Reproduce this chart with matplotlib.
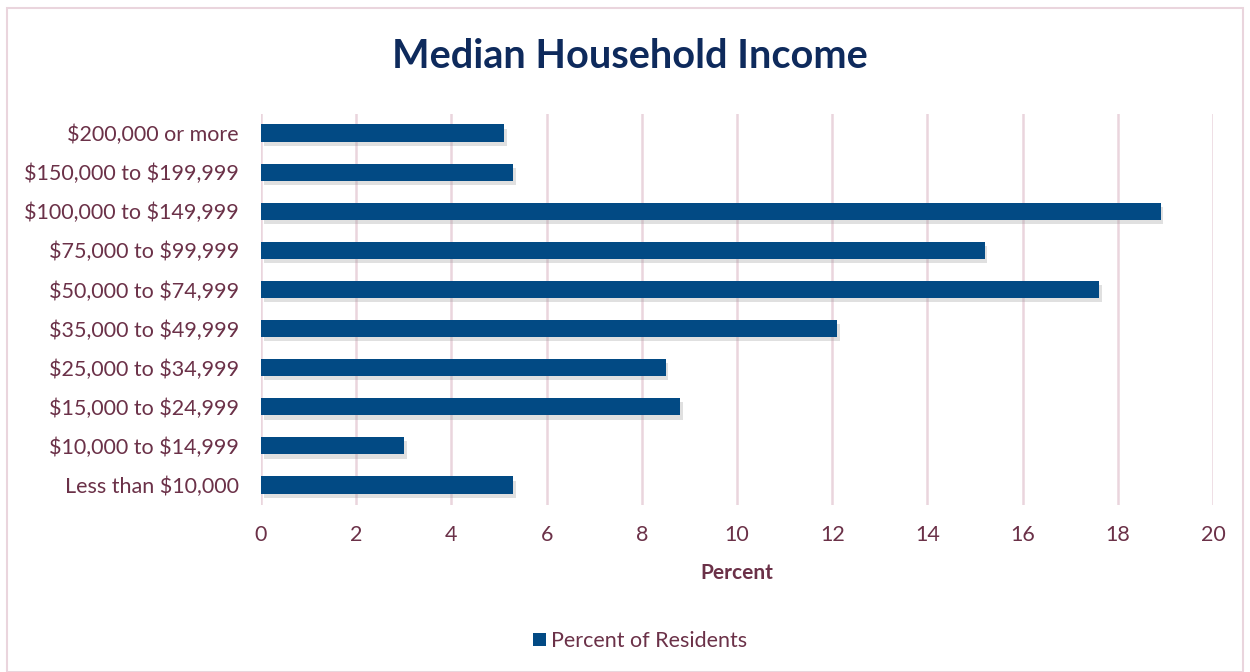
import matplotlib.pyplot as plt
import matplotlib.patheffects as pe
from matplotlib.patches import Rectangle

# data
categories = ['Less than $10,000', '$10,000 to $14,999', '$15,000 to $24,999',
              '$25,000 to $34,999', '$35,000 to $49,999', '$50,000 to $74,999',
              '$75,000 to $99,999', '$100,000 to $149,999', '$150,000 to $199,999',
              '$200,000 or more']
percent = [5.3, 3.0, 8.8, 8.5, 12.1, 17.6, 15.2, 18.9, 5.3, 5.1]
x_ticks = [0, 2, 4, 6, 8, 10, 12, 14, 16, 18, 20]

plt.rcParams['font.family'] = ['Lato', 'DejaVu Sans']
plt.rcParams['text.parse_math'] = False
text_col = '#6B3148'
grid_col = '#EAD5DD'
bar_col = '#024A84'

fig = plt.figure(figsize=(12.5, 6.72), dpi=100)
W, H = 1250, 672
ax = fig.add_axes([261 / W, 1 - 504.5 / H, (1213 - 261) / W, 391 / H])

bars = ax.barh(range(len(categories)), percent, height=0.44, color=bar_col,
               label='Percent of Residents', zorder=3)
for b in bars:
    b.set_path_effects([pe.SimplePatchShadow(offset=(2, -3), shadow_rgbFace='#999999', alpha=0.3),
                        pe.Normal()])

ax.set_xlim(0, 20)
ax.set_ylim(-0.5, len(categories) - 0.5)
ax.set_xticks(x_ticks)
ax.set_yticks(range(len(categories)))
ax.set_yticklabels(categories)
ax.tick_params(axis='both', length=0, labelsize=15.5, labelcolor=text_col)
ax.tick_params(axis='y', pad=16)
ax.tick_params(axis='x', pad=15)
ax.grid(axis='x', color=grid_col, linewidth=1.8, zorder=0)
for s in ax.spines.values():
    s.set_visible(False)

ax.set_xlabel('Percent', fontsize=15, fontweight='bold', color=text_col, labelpad=13)

fig.text(0.504, 1 - 56 / H, 'Median Household Income', ha='center', va='center',
         fontsize=28.5, fontweight='bold', color='#0E2A5C')

leg = fig.legend(loc='center', bbox_to_anchor=(640 / W, 1 - 641 / H), frameon=False,
                 fontsize=15.5, handlelength=0.6, handleheight=0.6, handletextpad=0.25)
for t in leg.get_texts():
    t.set_color(text_col)
for h in leg.legend_handles:
    h.set_path_effects([])

fig.patches.append(Rectangle((7 / W, 0), 1 - 14 / W, 1 - 8 / H, transform=fig.transFigure,
                             fill=False, edgecolor=grid_col, linewidth=1.5))

fig.savefig('out.png', dpi=100)
